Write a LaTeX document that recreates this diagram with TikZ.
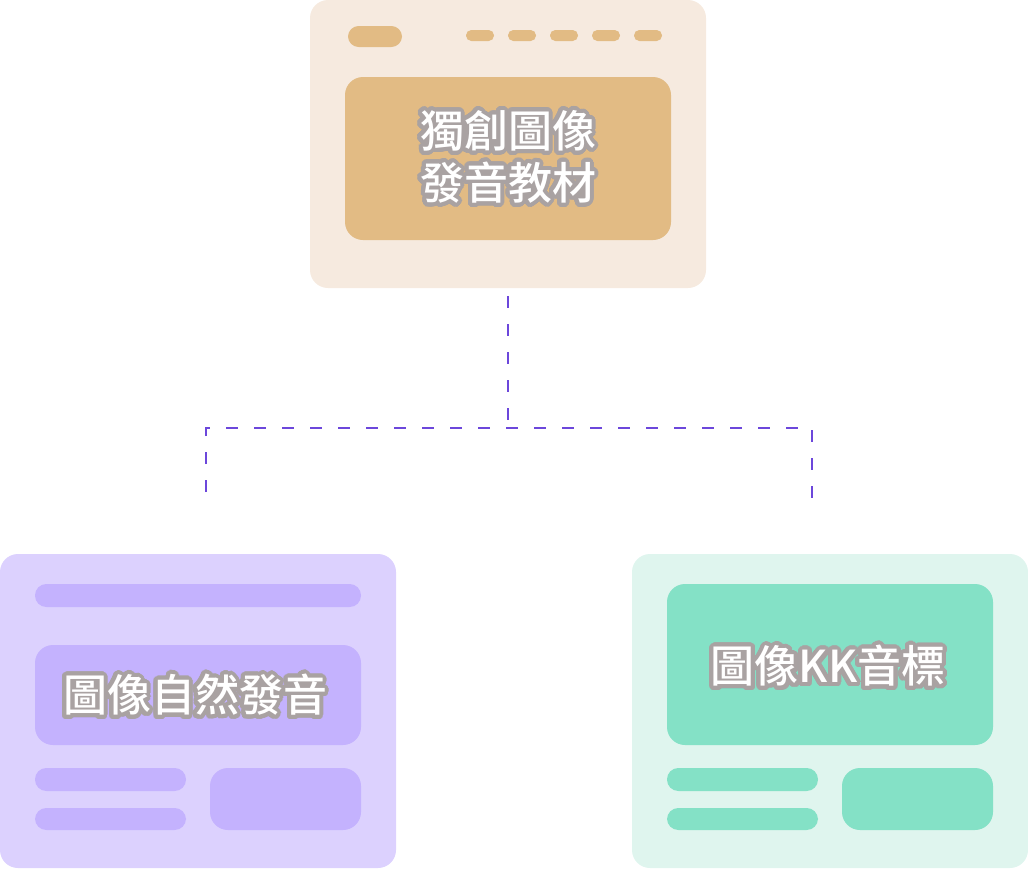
\documentclass[tikz,border=0pt]{standalone}
\usepackage{fontspec}
\newfontfamily\cjk{Noto Sans CJK TC Medium}
\usepackage[copies]{contour}
\contourlength{3pt}
\contournumber{40}
\definecolor{topbg}{HTML}{F6EADF}
\definecolor{topfg}{HTML}{E2BB84}
\definecolor{leftbg}{HTML}{DCD1FE}
\definecolor{leftfg}{HTML}{C4B2FE}
\definecolor{rightbg}{HTML}{DFF5EE}
\definecolor{rightfg}{HTML}{84E1C6}
\definecolor{dashc}{HTML}{6C47DB}
\definecolor{olgray}{HTML}{A9A2A2}
\tikzset{
  card/.style={rounded corners=13.5pt},
  inner/.style={rounded corners=13.5pt},
  bar/.style={rounded corners=8.5pt},
  pill/.style={rounded corners=4pt},
  lbl/.style={text=white, font=\cjk\fontsize{33pt}{39pt}\selectfont, align=center, inner sep=0pt},
  link/.style={draw=dashc, line width=1.5pt, dash pattern=on 9pt off 12pt}
}
\begin{document}
\begin{tikzpicture}[x=0.75pt,y=-0.75pt]
\useasboundingbox (0,0) rectangle (1028,868);
% top card
\fill[topbg, card] (310,0) rectangle (706,288);
\fill[topfg, rounded corners=8pt] (348,26) rectangle (402,47);
\foreach \x in {466,508,550,592,634} \fill[topfg, pill] (\x,30) rectangle ++(28,11);
\fill[topfg, inner] (345,77) rectangle (671,240);
\node[lbl] (top) at (508,159) {\contour{olgray}{獨創圖像}\\\contour{olgray}{發音教材}};
% left card
\fill[leftbg, card] (0,554) rectangle (396,868);
\fill[leftfg, bar] (35,584) rectangle (361,607);
\fill[leftfg, inner] (35,645) rectangle (361,745);
\fill[leftfg, bar] (35,768) rectangle (186,791);
\fill[leftfg, bar] (35,808) rectangle (186,830);
\fill[leftfg, inner] (210,768) rectangle (361,830);
\node[lbl] (left) at (195,697) {\contour{olgray}{圖像自然發音}};
% right card
\fill[rightbg, card] (632,554) rectangle (1028,868);
\fill[rightfg, inner] (667,584) rectangle (993,745);
\fill[rightfg, bar] (667,768) rectangle (818,791);
\fill[rightfg, bar] (667,808) rectangle (818,830);
\fill[rightfg, inner] (842,768) rectangle (993,830);
\node[lbl] (right) at (828,668) {\contour{olgray}{圖像KK音標}};
% connectors
\coordinate (src) at (508,296);
\coordinate (mid) at (508,428);
\coordinate (lc) at (206,428);
\coordinate (rc) at (812,428);
\coordinate (le) at (206,492);
\coordinate (re) at (812,498);
\draw[link] (src) -- (mid);
\draw[link] (le) -- (lc) -- (rc) -- (re);
\end{tikzpicture}
\end{document}
